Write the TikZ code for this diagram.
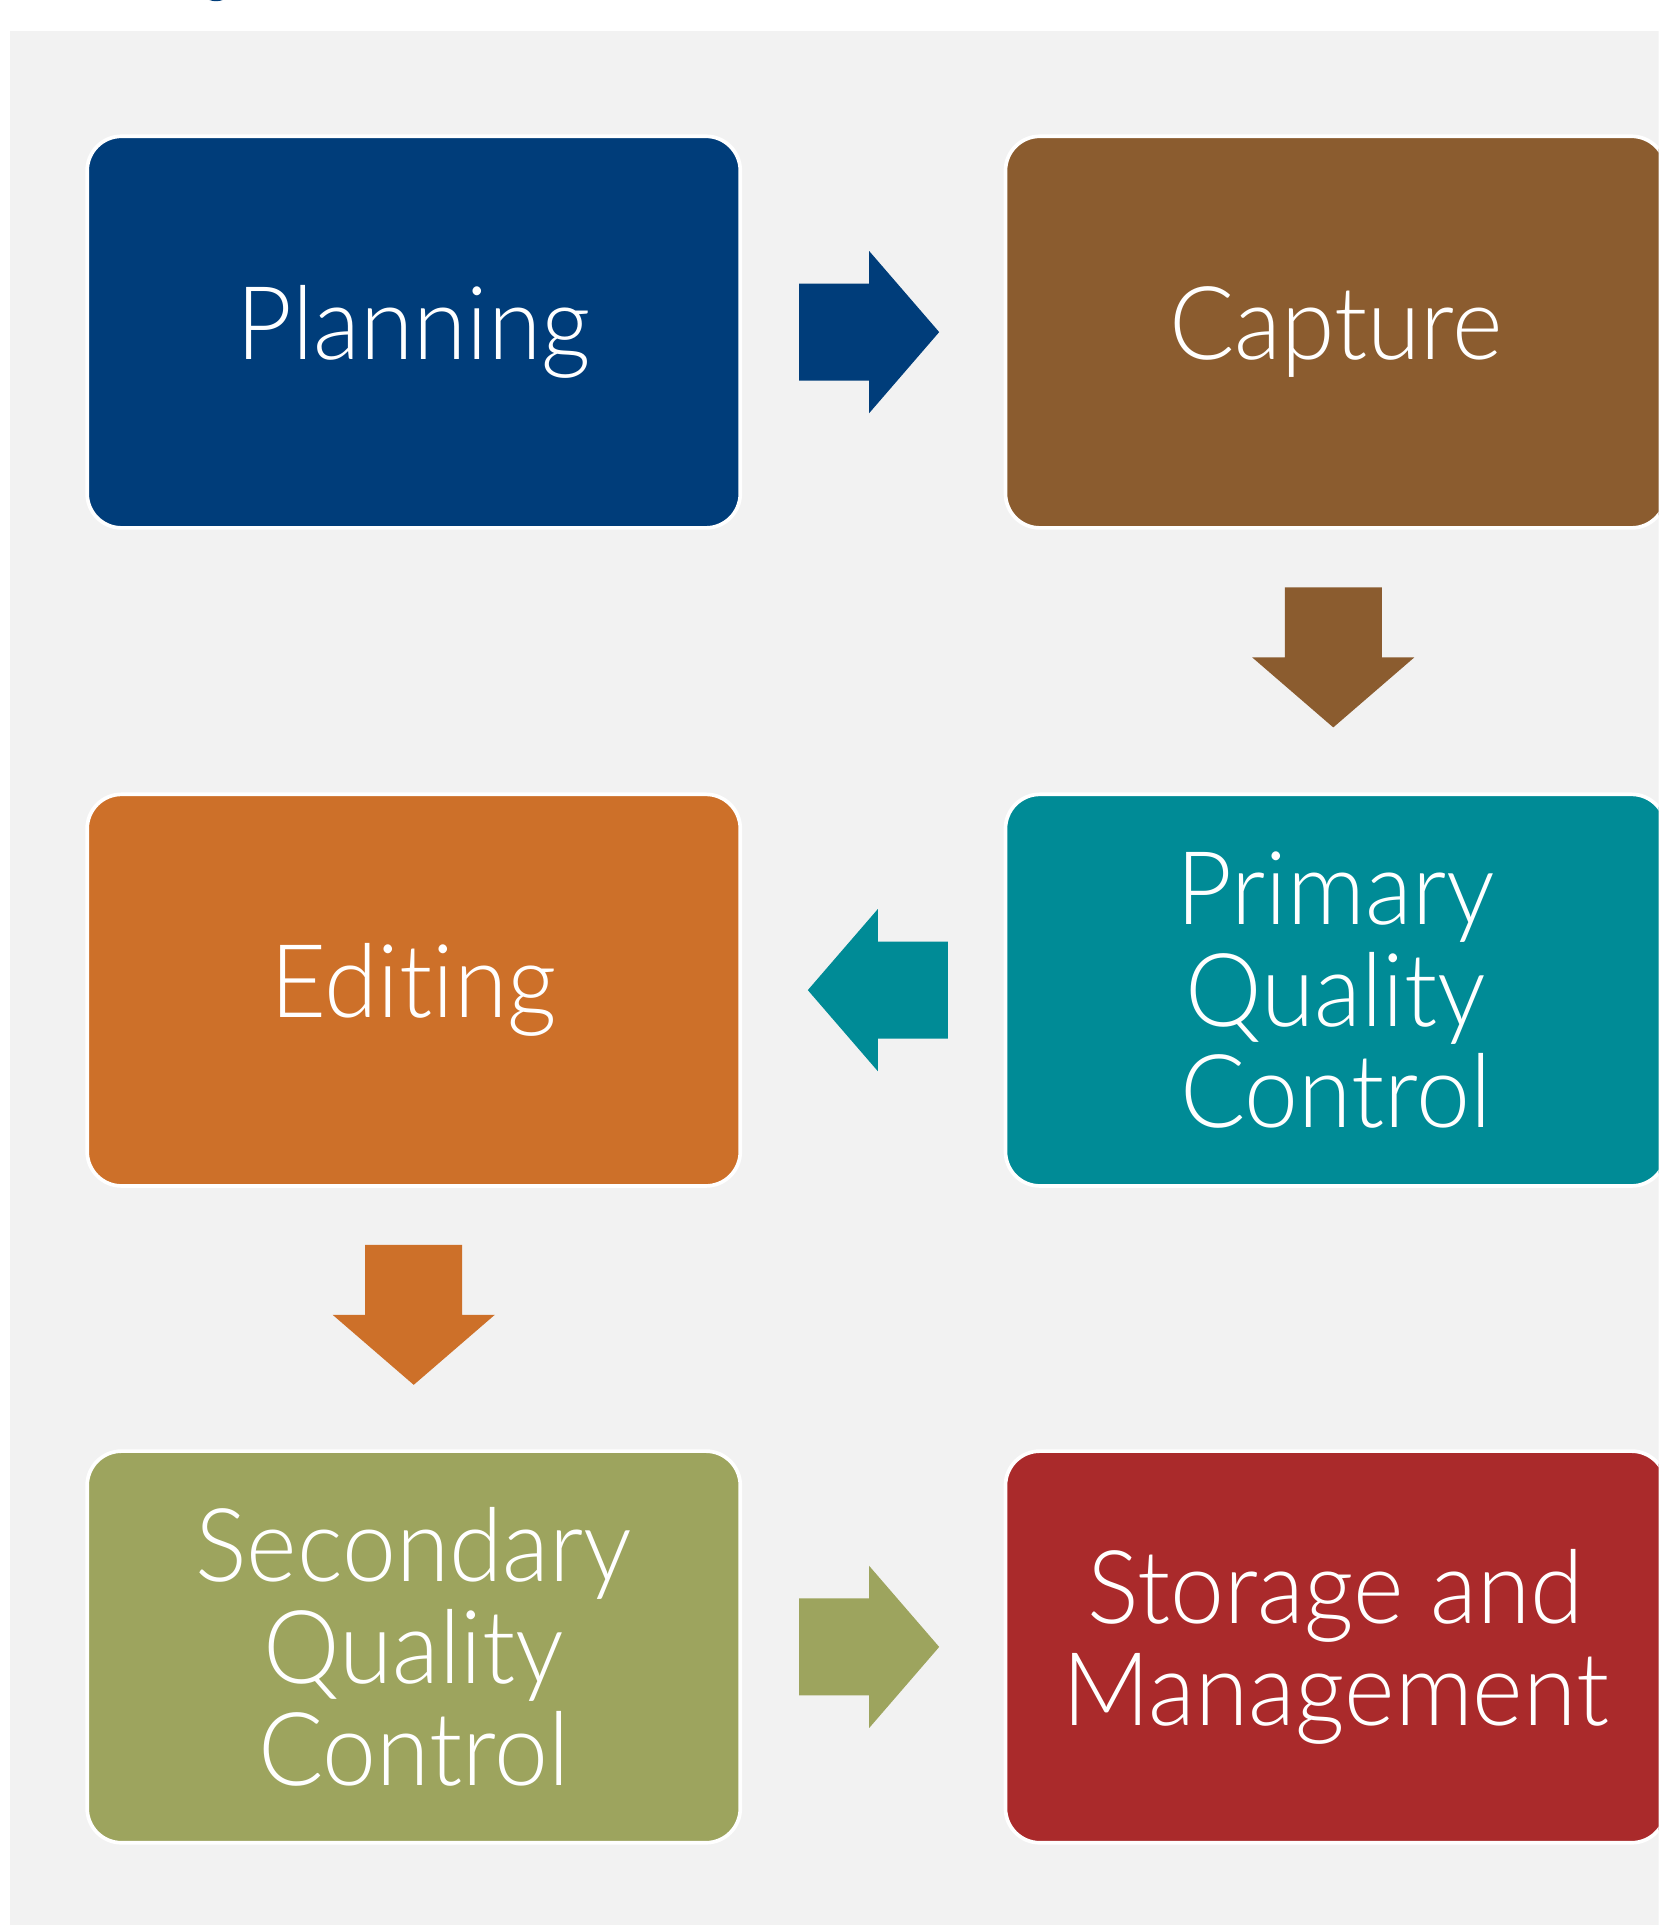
\documentclass[tikz,border=0pt]{standalone}
\usepackage{fontspec}
\setmainfont{Lato Light}[FakeStretch=0.95, Ligatures={NoCommon,NoContextual}]
\definecolor{bgc}{HTML}{F2F2F2}
\definecolor{planc}{HTML}{003D7A}
\definecolor{capc}{HTML}{8B5C2F}
\definecolor{pqcc}{HTML}{008B96}
\definecolor{editc}{HTML}{CD7029}
\definecolor{sqcc}{HTML}{9DA45E}
\definecolor{storc}{HTML}{AA2A2B}
\tikzset{
  stage/.style={draw=white, line width=3pt, rounded corners=28pt,
    minimum width=532pt, minimum height=319pt, inner sep=0pt,
    align=center, text=white, font=\fontsize{83}{83}\selectfont},
  rstage/.style={stage, minimum width=538pt},
  barrow/.pic={\fill[pic actions] (-57,-39.5) -- (0,-39.5) -- (0,-66) -- (57,0)
     -- (0,66) -- (0,39.5) -- (-57,39.5) -- cycle;}
}
\begin{document}
\begin{tikzpicture}[x=1pt,y=-1pt]
\useasboundingbox (0,0) rectangle (1351,1568);
\fill[white] (0,0) rectangle (1351,1568);
\begin{scope}
\clip (0,0) rectangle (1351,1568);
\fill[planc] (176,-12) ellipse (14 and 13);
\fill[bgc] (8,25) rectangle (1360,1568);
\node[stage, fill=planc] (plan) at (337,270.5) {Planning};
\node[rstage, fill=capc] (cap) at (1088,270.5) {Capture};
\node[rstage, fill=pqcc] (pqc) at (1088,806.5) {Primary\\Quality\\Control};
\node[stage, fill=editc] (edit) at (337,806.5) {Editing};
\node[stage, fill=sqcc] (sqc) at (337,1341.5) {Secondary\\Quality\\Control};
\node[rstage, fill=storc] (stor) at (1088,1341.5) {Storage and\\Management};
\pic[fill=planc] at (708,270.5) {barrow};
\pic[fill=capc, rotate=-90] at (1086,535.5) {barrow};
\pic[fill=pqcc, rotate=180] at (715,806.5) {barrow};
\pic[fill=editc, rotate=-90] at (337,1071) {barrow};
\pic[fill=sqcc] at (708,1341.5) {barrow};
\end{scope}
\end{tikzpicture}
\end{document}
